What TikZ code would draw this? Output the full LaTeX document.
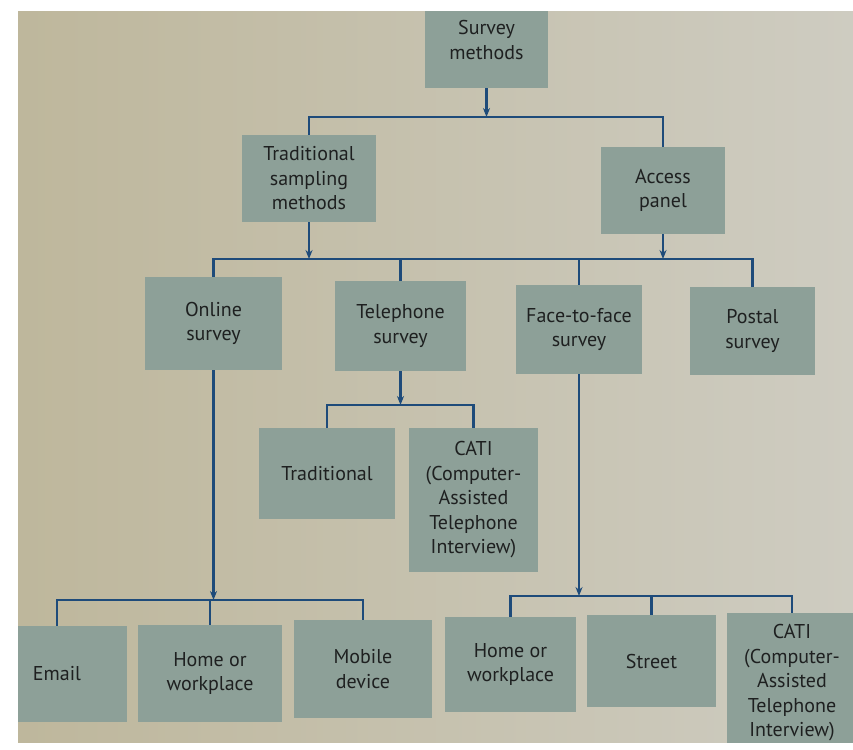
\documentclass[tikz,border=0pt]{standalone}
\usepackage{fontspec}
\setmainfont{PT Sans}
\usetikzlibrary{arrows.meta}
\definecolor{pageL}{RGB}{190,183,156}
\definecolor{pageR}{RGB}{206,204,193}
\definecolor{boxc}{RGB}{141,160,152}
\definecolor{linec}{RGB}{30,75,122}
\definecolor{txt}{RGB}{30,32,32}
\begin{document}
\begin{tikzpicture}[x=1pt,y=-1pt,
  box/.style={fill=boxc, text=txt, inner sep=0pt, align=center,
    font=\fontsize{20}{24.5}\selectfont},
  ln/.style={draw=linec, line width=2.4pt},
  arr/.style={ln, -{Stealth[length=9pt,width=7pt]}}]
\fill[white] (0,0) rectangle (853,749);
\useasboundingbox (0,0) rectangle (853,749);
\shade[left color=pageL, right color=pageR] (18,12) rectangle (853,742);
\begin{scope}
\clip (18,12) rectangle (853,742);
% boxes
\node[box, minimum width=123pt, minimum height=96pt] (survey) at (486.5,40) {Survey\\methods};
\node[box, minimum width=134pt, minimum height=87pt] (trad) at (309,178.5) {Traditional\\sampling\\methods};
\node[box, minimum width=124pt, minimum height=87pt] (access) at (663,190.5) {Access\\panel};
\node[box, minimum width=137pt, minimum height=93pt] (online) at (213.5,323.5) {Online\\survey};
\node[box, minimum width=131pt, minimum height=90pt] (tel) at (400.5,326) {Telephone\\survey};
\node[box, minimum width=126pt, minimum height=89pt] (f2f) at (579,329.5) {Face-to-face\\survey};
\node[box, minimum width=125pt, minimum height=88pt] (postal) at (752.5,331) {Postal\\survey};
\node[box, minimum width=136pt, minimum height=91pt] (tradi) at (327,473.5) {Traditional};
\node[box, minimum width=129pt, minimum height=144pt] (cati) at (473.5,500) {CATI\\(Computer-\\Assisted\\Telephone\\Interview)};
\node[box, minimum width=140pt, minimum height=96pt] (email) at (57,674) {Email};
\node[box, minimum width=144pt, minimum height=97pt] (home) at (210,673.5) {Home or\\workplace};
\node[box, minimum width=138pt, minimum height=98pt] (mobile) at (363,669) {Mobile\\device};
\node[box, minimum width=131pt, minimum height=95pt] (homeb) at (510.5,664.5) {Home or\\workplace};
\node[box, minimum width=129pt, minimum height=92pt] (street) at (651.5,661) {Street};
\node[box, minimum width=130pt, minimum height=140pt] (catib) at (792,683) {CATI\\(Computer-\\Assisted\\Telephone\\Interview)};
% junctions
\coordinate (j1) at (486.5,117);
\coordinate (j2) at (309,259);
\coordinate (j2b) at (663,259);
\coordinate (j3) at (400.5,405);
\coordinate (j4) at (213.5,600);
\coordinate (j5) at (579,596);
% connectors
\draw[arr] (survey.south) -- (j1);
\draw[ln] (trad.north) -- (trad.north |- j1) -- (access.north |- j1) -- (access.north);
\draw[arr] (trad.south) -- (j2);
\draw[arr] (access.south) -- (j2b);
\draw[ln] (online.north) -- (online.north |- j2) -- (postal.north |- j2) -- (postal.north);
\draw[ln] (tel.north |- j2) -- (tel.north);
\draw[ln] (f2f.north |- j2) -- (f2f.north);
\draw[arr] (tel.south) -- (j3);
\draw[ln] (tradi.north) -- (tradi.north |- j3) -- (cati.north |- j3) -- (cati.north);
\draw[arr] (online.south) -- (j4);
\draw[ln] (email.north) -- (email.north |- j4) -- (mobile.north |- j4) -- (mobile.north);
\draw[ln] (home.north |- j4) -- (home.north);
\draw[arr] (f2f.south) -- (j5);
\draw[ln] (homeb.north) -- (homeb.north |- j5) -- (catib.north |- j5) -- (catib.north);
\draw[ln] (street.north |- j5) -- (street.north);
\end{scope}
\end{tikzpicture}
\end{document}
